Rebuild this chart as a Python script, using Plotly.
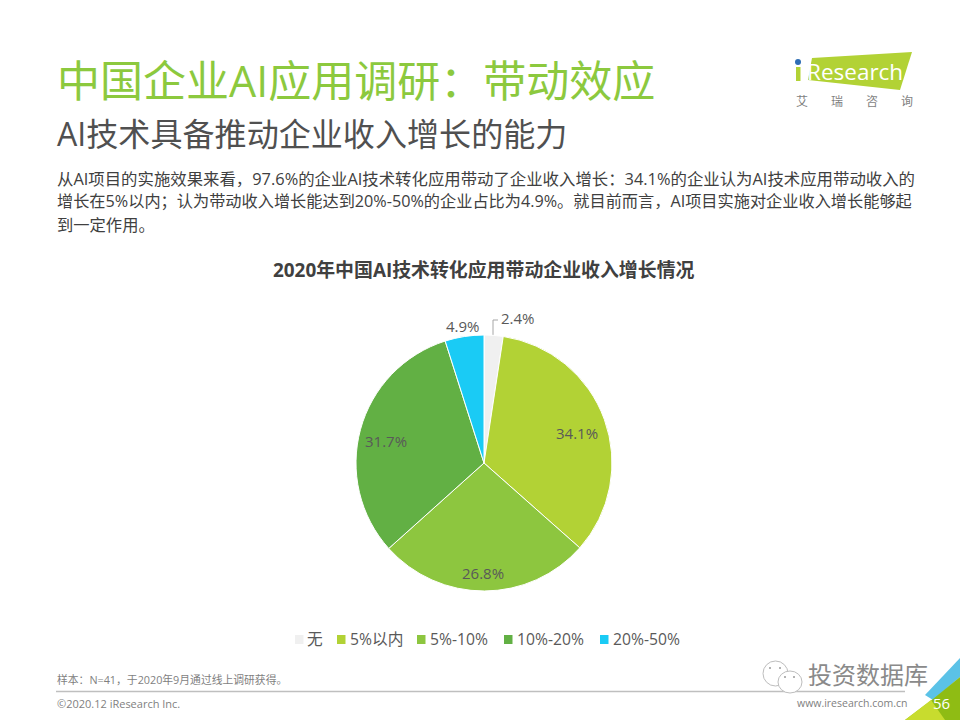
import plotly.graph_objects as go

W, H = 960, 720
categories = ["无", "5%以内", "5%-10%", "10%-20%", "20%-50%"]
values = [2.4, 34.1, 26.8, 31.7, 4.9]
colors = ["#F0F0F0", "#B2D235", "#8DC63F", "#62B044", "#1ACBF5"]
value_labels = ["2.4%", "34.1%", "26.8%", "31.7%", "4.9%"]
label_pos = [(518, 318), (577, 433), (483, 573), (386, 441), (463, 326)]
legend_marker_x = [295, 337, 417, 504, 600]
legend_text_gap = [10.5, 12, 12, 12, 12]

title = "中国企业AI应用调研：带动效应"
subtitle = "AI技术具备推动企业收入增长的能力"
body = [
    "从AI项目的实施效果来看，97.6%的企业AI技术转化应用带动了企业收入增长：34.1%的企业认为AI技术应用带动收入的",
    "增长在5%以内；认为带动收入增长能达到20%-50%的企业占比为4.9%。就目前而言，AI项目实施对企业收入增长能够起",
    "到一定作用。",
]
body_sizes = [16.4, 16.2, 16.3]
chart_title = "2020年中国AI技术转化应用带动企业收入增长情况"
note = "样本：N=41，于2020年9月通过线上调研获得。"
copyright_text = "©2020.12 iResearch Inc."
site = "www.iresearch.com.cn"
page = "56"
FONT = "Open Sans, Noto Sans CJK SC, sans-serif"
CJK = "Noto Sans CJK SC, sans-serif"


def px(x):
    return x / W


def py(y):
    return 1 - y / H


fig = go.Figure(go.Pie(
    labels=categories, values=values, sort=False, direction="clockwise", rotation=0,
    marker=dict(colors=colors, line=dict(color="white", width=1)),
    textinfo="none", hoverinfo="label+percent", showlegend=False,
    domain=dict(x=[px(356), px(612)], y=[py(591), py(335)]),
))


def text(x, y, s, size, color="#404040", anchor="left", family=FONT, weight=None):
    fig.add_annotation(
        xref="paper", yref="paper", x=px(x), y=py(y), text=s, showarrow=False,
        xanchor=anchor, yanchor="middle", align=anchor,
        xshift=-1 if anchor == "left" else 0,
        font=dict(size=size, color=color, family=family, weight=weight),
    )


def poly(points, fill):
    path = "M " + " L ".join(f"{px(x)} {py(y)}" for x, y in points) + " Z"
    fig.add_shape(type="path", path=path, xref="paper", yref="paper",
                  fillcolor=fill, line_width=0, layer="below")


def box(kind, x0, x1, y0, y1, fill, line=None):
    fig.add_shape(type=kind, xref="paper", yref="paper", x0=px(x0), x1=px(x1),
                  y0=py(y0), y1=py(y1), fillcolor=fill,
                  line=line or dict(width=0), layer="below")


def seg(points, color, width):
    path = "M " + " L ".join(f"{px(x)} {py(y)}" for x, y in points)
    fig.add_shape(type="path", path=path, xref="paper", yref="paper",
                  line=dict(color=color, width=width), layer="below")


text(56, 80, title, 43, "#8CC93E")
text(56, 133, subtitle, 32.1, "#505050")
for y, line, size in zip([178, 201, 225], body, body_sizes):
    text(56, y, line, size, "#404040")
text(484, 270, chart_title, 18.9, "#404040", "center", weight="bold")
for (x, y), s in zip(label_pos, value_labels):
    text(x, y, s, 15, "#595959", "center")

# legend, built from the categories and colours
for x, gap, c, name in zip(legend_marker_x, legend_text_gap, colors, categories):
    box("rect", x, x + 8.5, 635, 644, c)
    text(x + gap, 639, name, 15.7, "#595959")

text(56, 679, note, 10.8, "#7F7F7F")
text(56, 703, copyright_text, 11, "#7F7F7F")
text(910, 703, site, 10.5, "#7F7F7F", "right")

seg([(493, 335), (493, 320), (498, 320)], "#A6A6A6", 1)
seg([(56, 691.5), (905, 691.5)], "#BFBFBF", 1.5)

# logo
poly([(812, 58), (912, 52), (900, 90), (808, 80)], "#B2D235")
box("circle", 795, 801, 59, 65, "#2E6DB4")
box("rect", 796, 800.5, 67, 81, "#B2D235")
text(806, 72, "Research", 22.5, "white")
for x, ch in zip([802, 837, 872, 907], "艾瑞咨询"):
    text(x, 101, ch, 12, "#7F7F7F", "center", CJK)

# page corner
poly([(925, 695), (960, 658), (960, 677), (933, 700)], "#5BC2E7")
poly([(905, 720), (933, 699), (960, 677), (960, 720)], "#8FBC14")
poly([(905, 720), (931, 700), (945, 720)], "#C8DC2E")

# watermark
box("circle", 763, 788, 661, 686, "white", dict(color="#BDBDBD", width=1))
box("circle", 778, 802, 671, 693, "white", dict(color="#BDBDBD", width=1))
for dx, dy in [(770, 668), (780, 668), (785, 677), (794, 677)]:
    box("circle", dx - 1, dx + 1, dy - 1, dy + 1, "#9A9A9A")
text(868, 673, "投资数据库", 24, "#8A8A8A", "center", CJK)
text(941, 703, page, 15, "white", "center")

fig.update_layout(
    width=W, height=H, margin=dict(l=0, r=0, t=0, b=0),
    paper_bgcolor="white", plot_bgcolor="white",
    font=dict(family=FONT, color="#404040"),
    showlegend=False,
)
fig.write_html("out.html", config=dict(displayModeBar=False),
               post_script="document.body.style.margin='0';")
